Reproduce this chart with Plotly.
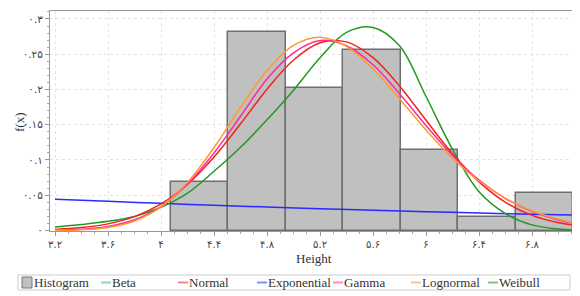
import plotly.graph_objects as go

# ---------------- data ----------------
bin_edges = [4.073, 4.507, 4.941, 5.375, 5.809, 6.243, 6.677, 7.111]
hist_heights = [0.0684, 0.282, 0.2017, 0.256, 0.114, 0.0187, 0.0536]

x_curve = [3.2, 3.4, 3.6, 3.8, 4.0, 4.2, 4.4, 4.6, 4.8, 5.0, 5.2, 5.4,
           5.6, 5.8, 6.0, 6.2, 6.4, 6.6, 6.8, 7.0, 7.1]
normal = [0.0016, 0.0041, 0.0094, 0.0197, 0.0377, 0.0656, 0.1043, 0.1513,
          0.2003, 0.2418, 0.2663, 0.2675, 0.2451, 0.2050, 0.1564, 0.1088,
          0.0690, 0.0400, 0.0215, 0.0110, 0.0080]
gamma = [0.0004, 0.0017, 0.0056, 0.0152, 0.0340, 0.0660, 0.1100, 0.1620,
         0.2150, 0.2520, 0.2695, 0.2620, 0.2350, 0.1940, 0.1490, 0.1065,
         0.0716, 0.0453, 0.0271, 0.0150, 0.0105]
lognormal = [0.0002, 0.0011, 0.0043, 0.0135, 0.0335, 0.0684, 0.1177, 0.1745,
             0.2268, 0.2625, 0.2740, 0.2610, 0.2290, 0.1870, 0.1427, 0.1027,
             0.0702, 0.0457, 0.0280, 0.0160, 0.0115]
weibull = [0.0050, 0.0085, 0.0130, 0.0200, 0.0330, 0.0530, 0.0840, 0.1180,
           0.1570, 0.1990, 0.2450, 0.2810, 0.2880, 0.2620, 0.1900, 0.1150,
           0.0550, 0.0240, 0.0080, 0.0020, 0.0008]
x_exp = [3.2, 3.6, 4.0, 4.4, 4.8, 5.2, 5.6, 6.0, 6.4, 6.8, 7.1]
exponential = [0.0445, 0.0414, 0.0385, 0.0358, 0.0333, 0.0309, 0.0288,
               0.0267, 0.0249, 0.0231, 0.0219]

x_tickvals = [3.2, 3.6, 4.0, 4.4, 4.8, 5.2, 5.6, 6.0, 6.4, 6.8]
x_ticktext = ["۳.۲", "۳.۶", "۴", "۴.۴", "۴.۸", "۵.۲", "۵.۶", "۶", "۶.۴", "۶.۸"]
y_tickvals = [0, 0.05, 0.1, 0.15, 0.2, 0.25, 0.3]
y_ticktext = ["۰", "۰.۰۵", "۰.۱", "۰.۱۵", "۰.۲", "۰.۲۵", "۰.۳"]

legend_names = ["Beta", "Normal", "Exponential", "Gamma", "Lognormal", "Weibull"]
legend_colors = ["#96d6ad", "#ff8282", "#8a8aff", "#ff8cc6", "#ffc284", "#86c486"]

# ---------------- figure ----------------
# page body has an 8px margin; compensate so plot area sits at page x 50..578, y 11..231
OFF = 8
W, H = 580 - OFF, 296 - OFF
PLOT_L, PLOT_T, PW, PH = 50, 11, 528, 220
ML = PLOT_L - OFF
MT = PLOT_T - OFF
MR = W - ML - PW
MB = H - MT - PH

centers = [(bin_edges[i] + bin_edges[i + 1]) / 2 for i in range(len(hist_heights))]
widths = [bin_edges[i + 1] - bin_edges[i] for i in range(len(hist_heights))]

fig = go.Figure()
fig.add_trace(go.Bar(x=centers, y=hist_heights, width=widths, name="Histogram",
                     marker=dict(color="#c0c0c0", line=dict(color="#6f6f6f", width=1.5))))

def curve(x, y, color, name):
    fig.add_trace(go.Scatter(x=x, y=y, mode="lines", name=name,
                             line=dict(color=color, width=1.5, shape="spline")))

curve(x_exp, exponential, "#2a2aff", "Exponential")
curve(x_curve, weibull, "#229922", "Weibull")
curve(x_curve, normal, "#f42020", "Normal")
curve(x_curve, gamma, "#ff2a9a", "Gamma")
curve(x_curve, lognormal, "#ff9a30", "Lognormal")

# custom legend (page pixel coords -> paper coords)
def px(xpix):
    return (xpix - PLOT_L) / PW

def py(ypix):
    return (PLOT_T + PH - ypix) / PH

TXT = dict(family="Liberation Serif", size=13, color="#333333")
shapes = []
annotations = []
shapes.append(dict(type="rect", xref="paper", yref="paper",
                   x0=px(18), x1=px(570), y0=py(290), y1=py(275),
                   line=dict(color="#cccccc", width=1), fillcolor="white"))
shapes.append(dict(type="rect", xref="paper", yref="paper",
                   x0=px(22), x1=px(32), y0=py(288), y1=py(277),
                   line=dict(color="#777777", width=1), fillcolor="#c0c0c0"))
annotations.append(dict(text="Histogram", xref="paper", yref="paper",
                        x=px(32), y=py(282.5), xanchor="left", yanchor="middle",
                        showarrow=False, font=TXT))
line_starts = [101, 178, 257, 333, 411, 488]
for name, col, x0 in zip(legend_names, legend_colors, line_starts):
    shapes.append(dict(type="line", xref="paper", yref="paper",
                       x0=px(x0), x1=px(x0 + 10), y0=py(282.5), y1=py(282.5),
                       line=dict(color=col, width=2)))
    annotations.append(dict(text=name, xref="paper", yref="paper",
                            x=px(x0 + 9), y=py(282.5), xanchor="left", yanchor="middle",
                            showarrow=False, font=TXT))

# axis titles
annotations.append(dict(text="Height", xref="paper", yref="paper",
                        x=px(314), y=py(259), xanchor="center", yanchor="middle",
                        showarrow=False, font=TXT))
annotations.append(dict(text="f(x)", xref="paper", yref="paper",
                        x=px(19), y=py(122), xanchor="center", yanchor="middle",
                        textangle=-90, showarrow=False, font=TXT))

fig.update_layout(
    width=W, height=H,
    margin=dict(l=ML, r=MR, t=MT, b=MB, autoexpand=False),
    paper_bgcolor="white", plot_bgcolor="white",
    showlegend=False, bargap=0,
    shapes=shapes, annotations=annotations,
    font=dict(family="DejaVu Sans", size=10, color="#444444"),
)
fig.update_xaxes(
    range=[3.162, 7.147], tickvals=x_tickvals, ticktext=x_ticktext,
    showline=True, linecolor="#999999", linewidth=1, mirror=True,
    ticks="outside", ticklen=4, tickcolor="#999999",
    minor=dict(dtick=0.1, ticks="outside", ticklen=2, tickcolor="#aaaaaa", showgrid=False),
    showgrid=True, gridcolor="#e4e4e4", griddash="dot", zeroline=False,
    tickfont=dict(family="DejaVu Sans", size=10, color="#444444"),
)
fig.update_yaxes(
    range=[-0.0007, 0.3113], tickvals=y_tickvals, ticktext=y_ticktext,
    showline=True, linecolor="#999999", linewidth=1, mirror=True,
    ticks="outside", ticklen=4, tickcolor="#999999",
    minor=dict(dtick=0.01, ticks="outside", ticklen=2, tickcolor="#aaaaaa", showgrid=False),
    showgrid=True, gridcolor="#e4e4e4", griddash="dot", zeroline=False,
    tickfont=dict(family="DejaVu Sans", size=10.5, color="#444444"),
)

fig.write_html("out.html")
